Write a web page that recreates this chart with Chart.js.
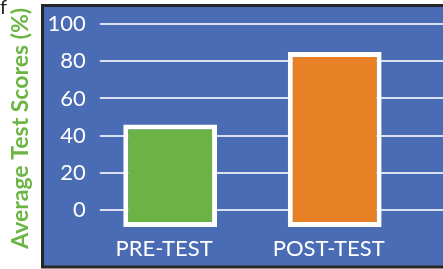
<!DOCTYPE html>
<html>
<head>
<meta charset="utf-8">
<script src="https://cdn.jsdelivr.net/npm/chart.js@4"></script>
<style>
  html, body { margin: 0; padding: 0; background: #fff; }
  #wrap { position: relative; width: 443px; height: 269px; overflow: hidden; }
  #cut { position: absolute; left: 0; top: -6px; font: 20px Lato, sans-serif; color: #222; }
</style>
</head>
<body>
<div id="wrap">
  <canvas id="scoreChart" width="443" height="269"></canvas>
  <div id="cut">f</div>
</div>
<script>
const categories = ['PRE-TEST', 'POST-TEST'];
const scores = [46, 85];
const barBase = -9;
const barColors = ['#6ab344', '#e88125'];
const yTicks = [0, 20, 40, 60, 80, 100];

const panelBg = {
    id: 'panelBg',
    beforeDraw(chart) {
        const ctx = chart.ctx;
        ctx.save();
        ctx.fillStyle = '#4a6cb4';
        ctx.fillRect(42, 4, chart.width, 264);
        ctx.strokeStyle = '#262626';
        ctx.lineWidth = 3;
        ctx.strokeRect(42.5, 5.5, chart.width + 10, 261.5);
        ctx.restore();
    },
    beforeDatasetsDraw(chart) {
        const ctx = chart.ctx;
        const y = chart.scales.y;
        ctx.save();
        ctx.strokeStyle = '#d9e0f2';
        ctx.lineWidth = 2;
        y.ticks.forEach((t, i) => {
            const py = Math.round(y.getPixelForTick(i));
            ctx.beginPath();
            ctx.moveTo(chart.chartArea.left + 12, py);
            ctx.lineTo(chart.width, py);
            ctx.stroke();
        });
        ctx.restore();
    }
};

new Chart(document.getElementById('scoreChart').getContext('2d'), {
    type: 'bar',
    data: {
        labels: categories,
        datasets: [{
            data: scores,
            base: barBase,
            backgroundColor: barColors,
            borderColor: '#ffffff',
            borderWidth: 5,
            borderSkipped: false,
            categoryPercentage: 1,
            barPercentage: 0.57
        }]
    },
    options: {
        responsive: false,
        animation: false,
        layout: { padding: { left: 0, right: 26, top: 24, bottom: 4 } },
        plugins: { legend: { display: false }, tooltip: { enabled: false } },
        scales: {
            x: {
                grid: { display: false, drawTicks: false },
                border: { display: false },
                ticks: {
                    color: '#ffffff',
                    font: { family: 'Lato', size: 22 },
                    padding: 3,
                    labelOffset: -6
                }
            },
            y: {
                min: -12,
                max: 100,
                afterBuildTicks: (scale) => {
                    scale.ticks = yTicks.map(v => ({ value: v }));
                },
                grid: { display: false, drawTicks: false },
                border: { display: false },
                ticks: {
                    color: '#ffffff',
                    font: { family: 'Lato', size: 22 },
                    padding: 2
                },
                title: {
                    display: true,
                    text: 'Average Test Scores (%)',
                    color: '#6cb543',
                    font: { family: 'Lato', size: 23, weight: 'bold' },
                    padding: { top: 7, bottom: 11 }
                }
            }
        }
    },
    plugins: [panelBg]
});
</script>
</body>
</html>
